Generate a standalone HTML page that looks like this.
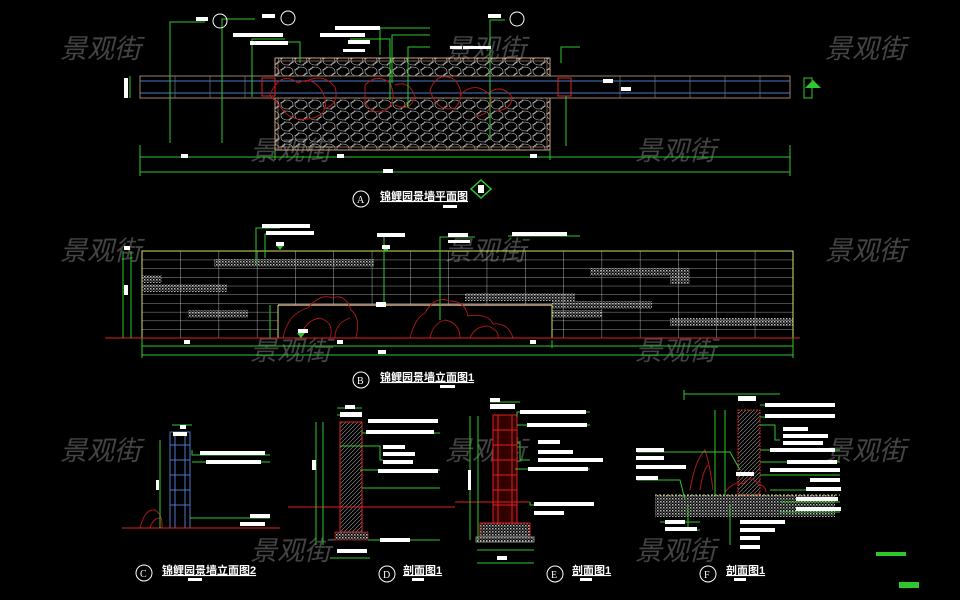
<!DOCTYPE html>
<html><head><meta charset="utf-8"><style>
html,body{margin:0;padding:0;background:#000;width:960px;height:600px;overflow:hidden}
svg{display:block}
.wm{font-family:"Liberation Sans","Noto Sans CJK SC",sans-serif;font-size:27px;fill:#555;font-style:italic;opacity:.8}
.t{font-family:"Liberation Sans","Noto Sans CJK SC",sans-serif;font-size:11px;fill:#fff;font-weight:bold}
.c{font-family:"Liberation Serif",serif;font-size:10px;fill:#fff}
</style></head><body>
<svg id="s" width="960" height="600" viewBox="0 0 960 600" xmlns="http://www.w3.org/2000/svg">
<defs>
<pattern id="grid" x="142" y="251" width="38.3" height="8.7" patternUnits="userSpaceOnUse"><path d="M0 0H38.3M0 0V8.7" stroke="#d0d0d0" stroke-width=".8" fill="none"/></pattern>
<pattern id="hatch" width="4" height="4" patternUnits="userSpaceOnUse"><path d="M0 4L4 0" stroke="#999" stroke-width=".6"/></pattern>
<pattern id="dots" width="3" height="3" patternUnits="userSpaceOnUse"><rect width="1.5" height="1.5" fill="#bbb"/><rect x="1.5" y="1.5" width="1.2" height="1.2" fill="#888"/></pattern>
<pattern id="cob" width="14" height="11" patternUnits="userSpaceOnUse"><ellipse cx="7" cy="5.5" rx="6" ry="4.5" fill="none" stroke="#ccc" stroke-width=".6"/><ellipse cx="0" cy="0" rx="5" ry="4" fill="none" stroke="#ccc" stroke-width=".6"/><ellipse cx="14" cy="11" rx="5" ry="4" fill="none" stroke="#ccc" stroke-width=".6"/></pattern>
</defs>

<g class="wm">
<text x="60" y="58">景观街</text><text x="445" y="58">景观街</text><text x="825" y="58">景观街</text>
<text x="250" y="160">景观街</text><text x="635" y="160">景观街</text>
<text x="60" y="260">景观街</text><text x="445" y="260">景观街</text><text x="825" y="260">景观街</text>
<text x="250" y="360">景观街</text><text x="635" y="360">景观街</text>
<text x="60" y="460">景观街</text><text x="445" y="460">景观街</text><text x="825" y="460">景观街</text>
<text x="250" y="560">景观街</text><text x="635" y="560">景观街</text>
</g>

<!-- PLAN A -->
<g>
<rect x="275" y="58" width="275" height="92" fill="url(#cob)" stroke="#c9a080" stroke-width="1"/>
<rect x="278" y="61" width="269" height="86" fill="none" stroke="#c9a080" stroke-width=".6"/>
<rect x="140" y="76" width="650" height="22" fill="#000" stroke="#c9a080" stroke-width=".8"/>
<g stroke="#888" stroke-width=".6"><line x1="175" y1="76" x2="175" y2="98"/><line x1="210" y1="76" x2="210" y2="98"/><line x1="245" y1="76" x2="245" y2="98"/><line x1="620" y1="76" x2="620" y2="98"/><line x1="655" y1="76" x2="655" y2="98"/><line x1="690" y1="76" x2="690" y2="98"/><line x1="725" y1="76" x2="725" y2="98"/><line x1="760" y1="76" x2="760" y2="98"/></g>
<line x1="140" y1="81" x2="790" y2="81" stroke="#4a78c8"/><line x1="140" y1="93" x2="790" y2="93" stroke="#4a78c8"/>
<rect x="262" y="78" width="13" height="18" fill="none" stroke="#e02020"/>
<rect x="558" y="78" width="13" height="18" fill="none" stroke="#e02020"/>
<g fill="none" stroke="#b01818" stroke-width="1">
<path d="M270 95q10-25 28-12q15 -8 25 10q8 20-10 25q-20 5-30-8z"/><path d="M305 82q18-10 30 5q5 18-12 22"/>
<path d="M365 85q12-12 25-2q8 18-5 28q-15 4-20-10z"/><path d="M395 85q15-5 20 12q-5 15-20 8"/>
<path d="M430 90q8-20 25-10q12 15 0 28q-18 5-25-18z"/><path d="M460 95q15-15 30 0q5 18-15 22"/>
<path d="M490 92q12-8 22 5q0 12-15 14"/>
</g>
<g stroke="#2ec82e" fill="none" stroke-width="1">
<line x1="140" y1="157" x2="790" y2="157"/><line x1="140" y1="172" x2="790" y2="172"/>
<line x1="140" y1="145" x2="140" y2="176"/><line x1="790" y1="145" x2="790" y2="176"/><line x1="275" y1="150" x2="275" y2="160"/><line x1="550" y1="150" x2="550" y2="160"/>
<polyline points="170,143 170,22 205,22"/><polyline points="222,143 222,19 255,19"/>
<polyline points="252,97 252,39 285,39"/><polyline points="380,55 380,28 430,28"/>
<polyline points="392,83 392,35 430,35"/><polyline points="408,108 408,47 430,47"/>
<polyline points="300,63 300,42 285,42"/><polyline points="390,100 390,39 350,39"/>
<polyline points="490,140 490,20 505,20"/><polyline points="561,63 561,47 580,47"/>
<line x1="130" y1="76" x2="130" y2="98"/><line x1="566" y1="96" x2="566" y2="146"/>
</g>
<g fill="#fff">
<rect x="196" y="17" width="12" height="4"/><rect x="262" y="14" width="13" height="4"/><rect x="488" y="14" width="13" height="4"/>
<rect x="233" y="33" width="50" height="4"/><rect x="250" y="41" width="38" height="4"/><rect x="335" y="26" width="45" height="4"/>
<rect x="320" y="33" width="45" height="4"/><rect x="348" y="40" width="22" height="4"/><rect x="343" y="49" width="22" height="3"/>
<rect x="450" y="46" width="12" height="3"/><rect x="463" y="46" width="28" height="3"/>
<rect x="181" y="154" width="7" height="4"/><rect x="337" y="154" width="7" height="4"/><rect x="530" y="154" width="7" height="4"/><rect x="383" y="169" width="10" height="4"/>
<rect x="124" y="78" width="4" height="20"/><rect x="603" y="79" width="10" height="4"/><rect x="621" y="87" width="10" height="4"/>
</g>
<g fill="none" stroke="#fff"><circle cx="220" cy="21" r="7"/><circle cx="288" cy="18" r="7"/><circle cx="517" cy="19" r="7"/><circle cx="361" cy="199" r="8"/></g>
<text class="c" x="357" y="203">A</text>
<text class="t" x="380" y="200" text-decoration="underline">锦鲤园景墙平面图</text>
<rect x="443" y="205" width="14" height="3" fill="#fff"/>
<path d="M481 180l-10 9 10 9 10-9z" fill="none" stroke="#2ec82e" stroke-width="1.5"/><rect x="478" y="185" width="6" height="8" fill="#fff"/>
<path d="M813 88l-8 0 8-8 8 8z" fill="#2ec82e"/><rect x="804" y="78" width="8" height="20" fill="none" stroke="#2ec82e"/>
</g>

<!-- ELEVATION B -->
<g>
<rect x="142" y="251" width="651" height="87" fill="url(#grid)" stroke="#d6e06a" stroke-width="1"/>
<g fill="url(#dots)">
<rect x="214" y="259" width="160" height="8"/><rect x="142" y="275" width="20" height="8"/><rect x="142" y="284" width="85" height="8"/>
<rect x="188" y="310" width="60" height="8"/><rect x="590" y="268" width="100" height="8"/><rect x="670" y="276" width="20" height="8"/>
<rect x="465" y="293" width="110" height="8"/><rect x="552" y="301" width="100" height="8"/><rect x="552" y="310" width="50" height="8"/><rect x="670" y="318" width="123" height="8"/>
</g>
<rect x="278" y="305" width="274" height="33" fill="#000"/>
<line x1="278" y1="305" x2="552" y2="305" stroke="#d6b08a" stroke-width="1.5"/><line x1="278" y1="305" x2="278" y2="338" stroke="#d6e06a"/><line x1="552" y1="305" x2="552" y2="338" stroke="#d6e06a"/>
<g fill="none" stroke="#b01818" stroke-width=".9">
<path d="M283 338q5-25 25-30q12-15 25-10q12-5 18 12q10 8 5 28"/><path d="M300 338q5-18 20-20q15 5 10 20"/><path d="M335 338q0-15 15-20"/>
<path d="M410 338q5-20 15-25q10-18 25-12q15 0 18 15q20-3 25 8q15-2 20 14"/><path d="M430 338q3-15 15-18q15 3 15 18"/><path d="M470 338q5-12 18-12q12 5 10 12"/>
</g>
<line x1="105" y1="338" x2="800" y2="338" stroke="#e02020" stroke-width="1"/>
<g stroke="#2ec82e" fill="none">
<line x1="142" y1="346" x2="793" y2="346"/><line x1="142" y1="355" x2="793" y2="355"/><line x1="142" y1="338" x2="142" y2="358"/><line x1="793" y1="338" x2="793" y2="358"/><line x1="552" y1="340" x2="552" y2="348"/>
<line x1="123" y1="251" x2="123" y2="338"/><line x1="131" y1="251" x2="131" y2="338"/><line x1="270" y1="305" x2="270" y2="338"/>
<polyline points="256,265 256,228 280,228"/><polyline points="265,258 265,234 280,234"/><polyline points="384,305 384,236 405,236"/>
<polyline points="440,320 440,237 475,237"/><polyline points="508,236 580,236"/>
</g>
<g fill="#2ec82e"><path d="M276 245h8l-4 5z"/><path d="M382 247h8l-4 5z"/><path d="M297 333h8l-4 5z"/></g>
<g fill="#fff">
<rect x="262" y="224" width="48" height="4"/><rect x="266" y="231" width="48" height="4"/><rect x="377" y="233" width="28" height="4"/><rect x="448" y="233" width="20" height="4"/><rect x="448" y="240" width="22" height="3"/><rect x="512" y="232" width="55" height="4"/>
<rect x="276" y="242" width="8" height="4"/><rect x="382" y="245" width="8" height="4"/><rect x="376" y="302" width="10" height="5"/><rect x="298" y="329" width="10" height="4"/>
<rect x="184" y="340" width="6" height="4"/><rect x="337" y="340" width="6" height="4"/><rect x="530" y="340" width="6" height="4"/><rect x="378" y="350" width="8" height="4"/><rect x="124" y="246" width="6" height="4"/><rect x="124" y="285" width="4" height="10"/>
</g>
<circle cx="361" cy="380" r="8" fill="none" stroke="#fff"/><text class="c" x="357" y="384">B</text>
<text class="t" x="380" y="381" text-decoration="underline">锦鲤园景墙立面图1</text><rect x="440" y="385" width="15" height="3" fill="#fff"/>
</g>

<!-- C -->
<g>
<rect x="170" y="432" width="20" height="96" fill="none" stroke="#4a78c8"/><line x1="175" y1="432" x2="175" y2="528" stroke="#4a78c8"/><line x1="185" y1="432" x2="185" y2="528" stroke="#4a78c8"/>
<g stroke="#4a78c8"><line x1="170" y1="445" x2="190" y2="445"/><line x1="170" y1="460" x2="190" y2="460"/><line x1="170" y1="475" x2="190" y2="475"/><line x1="170" y1="490" x2="190" y2="490"/><line x1="170" y1="505" x2="190" y2="505"/></g>
<path d="M140 528q5-20 15-18q8 5 7 18M150 528q3-10 10-10" stroke="#b01818" fill="none"/>
<line x1="122" y1="528" x2="280" y2="528" stroke="#e02020"/>
<g stroke="#2ec82e" fill="none"><line x1="160" y1="440" x2="160" y2="528"/><line x1="172" y1="425" x2="192" y2="425"/><polyline points="192,450 192,455 270,455"/><polyline points="192,462 270,462"/><line x1="190" y1="518" x2="270" y2="518"/></g>
<g fill="#fff"><rect x="180" y="425" width="6" height="4"/><rect x="173" y="432" width="14" height="4"/><rect x="200" y="451" width="65" height="4"/><rect x="206" y="460" width="55" height="4"/><rect x="250" y="514" width="20" height="4"/><rect x="240" y="522" width="25" height="4"/><rect x="156" y="480" width="3" height="10"/></g>
<circle cx="144" cy="573" r="8" fill="none" stroke="#fff"/><text class="c" x="140" y="577">C</text>
<text class="t" x="162" y="574" text-decoration="underline">锦鲤园景墙立面图2</text><rect x="188" y="578" width="14" height="3" fill="#fff"/>
</g>

<!-- D -->
<g>
<rect x="340" y="422" width="22" height="110" fill="url(#hatch)" stroke="#e02020"/>
<rect x="335" y="532" width="33" height="8" fill="url(#dots)" stroke="#e02020" stroke-width=".6"/>
<line x1="288" y1="507" x2="455" y2="507" stroke="#e02020"/>
<g stroke="#2ec82e" fill="none"><line x1="316" y1="422" x2="316" y2="545"/><line x1="323" y1="422" x2="323" y2="545"/><line x1="337" y1="408" x2="362" y2="408"/><line x1="337" y1="415" x2="362" y2="415"/><line x1="330" y1="558" x2="370" y2="558"/>
<polyline points="362,430 362,433 440,433"/><polyline points="340,446 380,446 380,460 383,460"/><line x1="360" y1="470" x2="440" y2="470"/><line x1="362" y1="488" x2="440" y2="488"/><line x1="368" y1="540" x2="440" y2="540"/></g>
<g fill="#fff"><rect x="345" y="405" width="10" height="4"/><rect x="340" y="412" width="22" height="5"/><rect x="368" y="419" width="70" height="4"/><rect x="366" y="430" width="68" height="4"/><rect x="383" y="445" width="22" height="4"/><rect x="383" y="452" width="32" height="4"/><rect x="383" y="460" width="30" height="4"/><rect x="378" y="469" width="60" height="4"/><rect x="380" y="538" width="30" height="4"/><rect x="312" y="460" width="4" height="10"/><rect x="337" y="549" width="30" height="4"/></g>
<circle cx="387" cy="574" r="8" fill="none" stroke="#fff"/><text class="c" x="383" y="578">D</text>
<text class="t" x="403" y="574" text-decoration="underline">剖面图1</text><rect x="412" y="578" width="12" height="3" fill="#fff"/>
</g>

<!-- E -->
<g>
<rect x="493" y="415" width="24" height="108" fill="#300" stroke="#e02020"/>
<g stroke="#e02020" fill="none"><line x1="498" y1="415" x2="498" y2="525"/><line x1="512" y1="415" x2="512" y2="525"/><line x1="493" y1="430" x2="517" y2="430"/><line x1="493" y1="445" x2="517" y2="445"/><line x1="493" y1="460" x2="517" y2="460"/><line x1="493" y1="475" x2="517" y2="475"/><line x1="493" y1="490" x2="517" y2="490"/><line x1="493" y1="505" x2="517" y2="505"/></g>
<rect x="480" y="523" width="50" height="14" fill="url(#dots)" stroke="#e02020"/>
<rect x="476" y="537" width="58" height="5" fill="url(#dots)" stroke="#888"/>
<line x1="455" y1="502" x2="530" y2="502" stroke="#e02020"/>
<g stroke="#2ec82e" fill="none"><line x1="470" y1="416" x2="470" y2="540"/><line x1="478" y1="416" x2="478" y2="540"/><line x1="490" y1="402" x2="520" y2="402"/><line x1="477" y1="550" x2="534" y2="550"/><line x1="477" y1="563" x2="534" y2="563"/>
<polyline points="517,417 517,412 590,412"/><line x1="517" y1="425" x2="590" y2="425"/><polyline points="517,443 520,443 520,460 530,460"/><line x1="515" y1="469" x2="590" y2="469"/><polyline points="530,502 530,505 550,505"/></g>
<g fill="#fff"><rect x="490" y="398" width="10" height="4"/><rect x="490" y="404" width="25" height="5"/><rect x="520" y="410" width="66" height="4"/><rect x="527" y="423" width="60" height="4"/><rect x="538" y="440" width="22" height="4"/><rect x="538" y="450" width="35" height="4"/><rect x="538" y="458" width="65" height="4"/><rect x="528" y="467" width="60" height="4"/><rect x="534" y="502" width="60" height="4"/><rect x="534" y="511" width="30" height="4"/><rect x="497" y="556" width="10" height="4"/><rect x="468" y="470" width="3" height="20"/></g>
<circle cx="555" cy="574" r="8" fill="none" stroke="#fff"/><text class="c" x="551" y="578">E</text>
<text class="t" x="572" y="574" text-decoration="underline">剖面图1</text><rect x="580" y="578" width="12" height="3" fill="#fff"/>
</g>

<!-- F -->
<g>
<rect x="738" y="410" width="22" height="85" fill="url(#hatch)" stroke="#e02020" stroke-dasharray="2 1"/>
<rect x="655" y="495" width="180" height="22" fill="url(#dots)"/>
<line x1="655" y1="495" x2="840" y2="495" stroke="#d6e06a" stroke-dasharray="2 2"/>
<path d="M690 490q5-30 15-40q5 15 8 40M700 490q3-20 8-25" stroke="#b01818" fill="none"/>
<path d="M725 492q10-12 18-8q8-10 15 0q8 2 8 8" stroke="#b01818" fill="none"/>
<g stroke="#2ec82e" fill="none"><line x1="684" y1="394" x2="780" y2="394"/><line x1="684" y1="390" x2="684" y2="400"/><line x1="715" y1="410" x2="715" y2="495"/><line x1="725" y1="410" x2="725" y2="495"/>
<polyline points="637,452 730,452 740,470"/><line x1="637" y1="467" x2="680" y2="467"/><polyline points="637,480 680,480 685,500"/><line x1="660" y1="522" x2="700" y2="522"/><polyline points="688,505 688,530 700,530"/>
<line x1="730" y1="505" x2="730" y2="545"/><line x1="760" y1="405" x2="835" y2="405"/><line x1="760" y1="417" x2="835" y2="417"/><polyline points="760,425 775,425 775,440 780,440"/><line x1="760" y1="450" x2="840" y2="450"/><line x1="760" y1="462" x2="840" y2="462"/><line x1="760" y1="475" x2="840" y2="475"/><line x1="770" y1="490" x2="840" y2="490"/><line x1="780" y1="502" x2="840" y2="502"/><line x1="780" y1="512" x2="840" y2="512"/></g>
<g fill="#fff"><rect x="738" y="396" width="18" height="5"/><rect x="765" y="403" width="70" height="4"/><rect x="765" y="414" width="70" height="4"/><rect x="783" y="427" width="25" height="4"/><rect x="783" y="434" width="45" height="4"/><rect x="783" y="441" width="40" height="4"/><rect x="770" y="448" width="65" height="4"/><rect x="787" y="460" width="50" height="4"/><rect x="770" y="468" width="70" height="4"/><rect x="810" y="478" width="30" height="4"/><rect x="806" y="487" width="35" height="4"/><rect x="796" y="497" width="42" height="4"/><rect x="796" y="507" width="45" height="4"/><rect x="636" y="448" width="28" height="4"/><rect x="636" y="456" width="28" height="4"/><rect x="636" y="465" width="50" height="4"/><rect x="636" y="476" width="22" height="4"/><rect x="665" y="520" width="20" height="4"/><rect x="665" y="527" width="32" height="4"/><rect x="740" y="520" width="45" height="4"/><rect x="740" y="528" width="35" height="4"/><rect x="740" y="536" width="20" height="4"/><rect x="740" y="545" width="20" height="4"/><rect x="736" y="472" width="18" height="4"/></g>
<circle cx="708" cy="574" r="8" fill="none" stroke="#fff"/><text class="c" x="704" y="578">F</text>
<text class="t" x="726" y="574" text-decoration="underline">剖面图1</text><rect x="734" y="578" width="12" height="3" fill="#fff"/>
<rect x="876" y="552" width="30" height="4" fill="#2ec82e"/>
<rect x="899" y="582" width="20" height="6" fill="#2ec82e"/>
</g>
</svg>
</body></html>
